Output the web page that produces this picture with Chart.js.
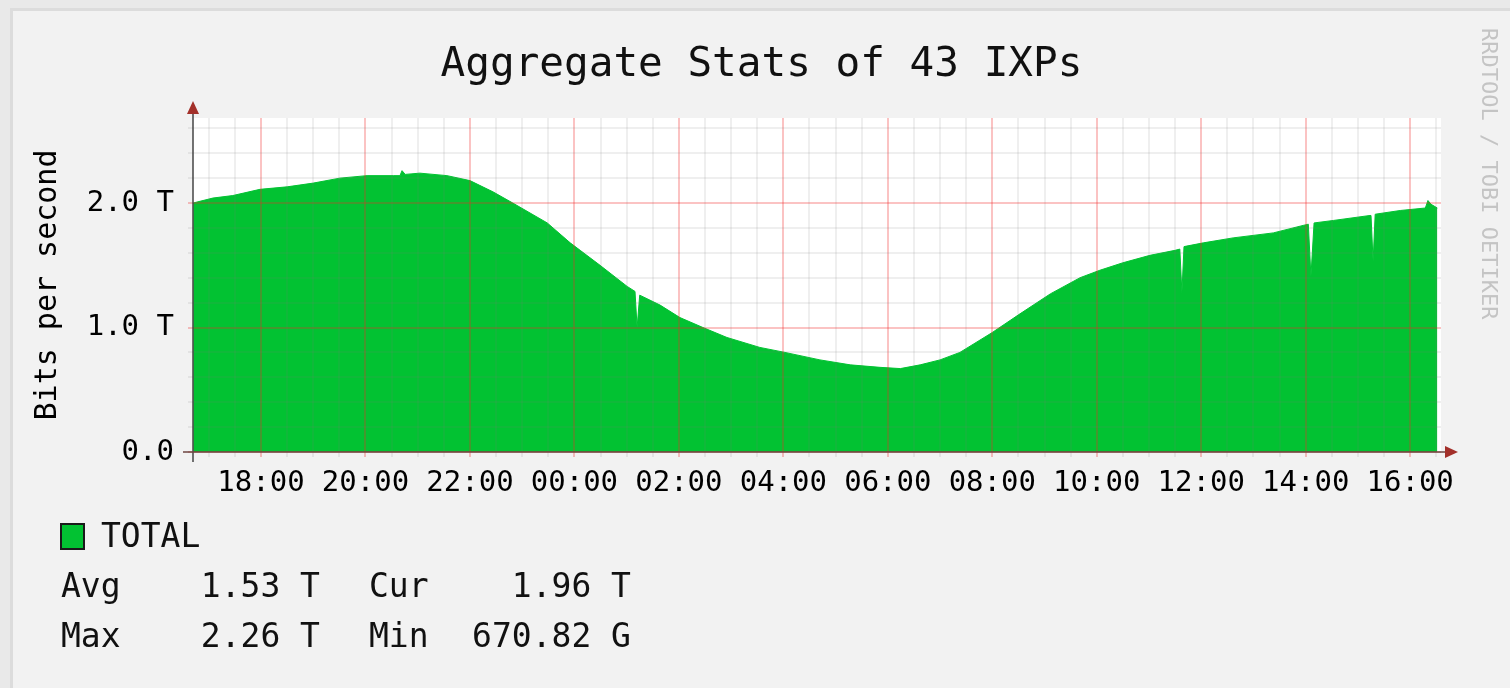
<!DOCTYPE html>
<html>
<head>
<meta charset="utf-8">
<script src="https://cdn.jsdelivr.net/npm/chart.js@4/dist/chart.umd.min.js"></script>
<style>
  html, body { margin: 0; padding: 0; }
  body { width: 1510px; height: 688px; background: #e9e9e9; position: relative; overflow: hidden;
         font-family: 'DejaVu Sans Mono', monospace; color: #111; }
  #panel { position: absolute; left: 10px; top: 8px; right: 0; bottom: 0;
           border-left: 3px solid #dcdcdc; border-top: 3px solid #dcdcdc; background: #f2f2f2; }
  #chart1 { position: absolute; left: 0; top: 0; }
  .txt { position: absolute; white-space: pre; line-height: 1; }
  #title { left: 0; width: 1523px; top: 42px; text-align: center; font-size: 41px; }
  #mark { left: 1478px; top: 28px; font-size: 22px; color: #c4c4c4; transform-origin: 0 0;
          transform: translate(22px, 0) rotate(90deg); }
  .leg { font-size: 33px; }
  .val { text-align: right; width: 200px; }
  #swatch { position: absolute; left: 60px; top: 523px; width: 21px; height: 23px;
            background: #02c232; border: 2px solid #1a1a1a; }
</style>
</head>
<body>
<div id="panel"></div>
<canvas id="chart1" width="1510" height="688"></canvas>
<div class="txt" id="title">Aggregate Stats of 43 IXPs</div>
<div class="txt" id="mark">RRDTOOL / TOBI OETIKER</div>
<div id="swatch"></div>
<div class="txt leg" style="left:101px; top:519px;">TOTAL</div>
<div class="txt leg" style="left:61px; top:569px;">Avg</div>
<div class="txt leg val" style="left:120px; top:569px;" id="avg"></div>
<div class="txt leg" style="left:369px; top:569px;">Cur</div>
<div class="txt leg val" style="left:431px; top:569px;" id="cur"></div>
<div class="txt leg" style="left:61px; top:619px;">Max</div>
<div class="txt leg val" style="left:120px; top:619px;" id="max"></div>
<div class="txt leg" style="left:369px; top:619px;">Min</div>
<div class="txt leg val" style="left:431px; top:619px;" id="min"></div>
<script>
// hours after 16:00 on the first day
const times = [0.70, 1.08, 1.46, 1.98, 2.50, 3.00, 3.51, 4.03, 4.53, 4.66, 4.70, 4.76, 5.04, 5.56,
  6.00, 6.44, 6.82, 7.48, 7.92, 8.11, 8.49, 9.01, 9.16, 9.20, 9.25, 9.64, 10.02, 10.46, 10.92,
  11.55, 12.03, 12.70, 13.28, 13.85, 14.24, 14.62, 15.00, 15.38, 16.00, 16.53, 17.11, 17.68,
  18.06, 18.50, 19.02, 19.50, 19.59, 19.63, 19.67, 20.04, 20.61, 21.38, 21.95, 22.05, 22.10,
  22.16, 22.53, 23.23, 23.25, 23.29, 23.33, 23.81, 24.29, 24.34, 24.40, 24.52];
// total traffic, Tbit/s
const totalT = [2.00, 2.04, 2.06, 2.11, 2.13, 2.16, 2.20, 2.22, 2.22, 2.22, 2.26, 2.23, 2.24, 2.22,
  2.18, 2.09, 2.00, 1.84, 1.68, 1.62, 1.50, 1.33, 1.29, 1.00, 1.26, 1.18, 1.08, 1.00, 0.92,
  0.84, 0.80, 0.74, 0.70, 0.68, 0.67, 0.70, 0.74, 0.80, 0.96, 1.11, 1.27, 1.40,
  1.46, 1.52, 1.58, 1.62, 1.63, 1.28, 1.65, 1.68, 1.72, 1.76, 1.82, 1.83, 1.41,
  1.84, 1.86, 1.90, 1.90, 1.53, 1.91, 1.94, 1.96, 2.02, 1.99, 1.96];

const xTickHours = [2, 4, 6, 8, 10, 12, 14, 16, 18, 20, 22, 24];
const xTickLabels = ['18:00', '20:00', '22:00', '00:00', '02:00', '04:00', '06:00', '08:00',
  '10:00', '12:00', '14:00', '16:00'];
const yTickValues = [0, 1, 2];
const yTickLabels = ['0.0', '1.0 T', '2.0 T'];

const statNames = ['avg', 'cur', 'max', 'min'];
const statTexts = ['1.53 T', '1.96 T', '2.26 T', '670.82 G'];
statNames.forEach((n, i) => { document.getElementById(n).textContent = statTexts[i]; });

const green = '#02c232';
const minorGrid = 'rgba(120,120,120,0.12)';
const majorGrid = 'rgba(240,40,40,0.28)';
const monoFont = 'DejaVu Sans Mono';

const xGrid = [];
for (let h = 1; h <= 24.5; h += 0.5) xGrid.push(h);
const yGrid = [];
for (let k = 0; k <= 13; k++) yGrid.push(Math.round(k * 2) / 10);

function xGridColor(c) {
  const v = xGrid[c.index];
  return (v !== undefined && xTickHours.some(h => Math.abs(h - v) < 1e-6)) ? majorGrid : minorGrid;
}
function yGridColor(c) {
  const v = yGrid[c.index];
  return (v !== undefined && yTickValues.some(t => Math.abs(t - v) < 1e-6)) ? majorGrid : minorGrid;
}

const frame = {
  id: 'frame',
  beforeDraw(chart) {
    const a = chart.chartArea, c = chart.ctx;
    c.save();
    c.fillStyle = '#ffffff';
    c.fillRect(a.left, a.top, a.right - a.left, a.bottom - a.top);
    c.restore();
  },
  afterDraw(chart) {
    const a = chart.chartArea, c = chart.ctx;
    c.save();
    c.lineWidth = 1.5;
    c.strokeStyle = '#444';
    c.beginPath(); c.moveTo(a.left, a.bottom + 10); c.lineTo(a.left, a.top - 8); c.stroke();
    c.strokeStyle = '#6e4642';
    c.beginPath(); c.moveTo(a.left - 10, a.bottom); c.lineTo(a.right + 8, a.bottom); c.stroke();
    c.fillStyle = '#a3302a';
    c.beginPath();
    c.moveTo(a.left, a.top - 17); c.lineTo(a.left - 6, a.top - 4); c.lineTo(a.left + 6, a.top - 4);
    c.closePath(); c.fill();
    c.beginPath();
    c.moveTo(a.right + 17, a.bottom); c.lineTo(a.right + 4, a.bottom - 6); c.lineTo(a.right + 4, a.bottom + 6);
    c.closePath(); c.fill();
    c.restore();
  }
};

window.onload = function () {
  let chart1 = document.getElementById('chart1').getContext('2d');

  new Chart(chart1, {
    type: 'line',
    data: {
      datasets: [{
        label: 'TOTAL',
        data: times.map((t, i) => ({ x: t, y: totalT[i] })),
        fill: 'origin',
        backgroundColor: green,
        borderColor: green,
        borderWidth: 1,
        pointRadius: 0,
        tension: 0
      }]
    },
    options: {
      responsive: false,
      animation: false,
      layout: { padding: { top: 118, right: 69, bottom: 186, left: 0 } },
      plugins: { legend: { display: false }, tooltip: { enabled: false } },
      scales: {
        x: {
          type: 'linear', min: 0.698, max: 24.59, z: 1,
          border: { display: false },
          grid: { z: 1, color: xGridColor, lineWidth: 2, tickLength: 5 },
          ticks: {
            autoSkip: false, maxRotation: 0, padding: 9, color: '#000',
            font: { family: monoFont, size: 29 },
            callback: v => {
              const i = xTickHours.findIndex(h => Math.abs(h - v) < 1e-6);
              return i >= 0 ? xTickLabels[i] : '';
            }
          },
          afterBuildTicks: ax => { ax.ticks = xGrid.map(v => ({ value: v })); },
          afterFit: ax => { ax.height = 50; }
        },
        y: {
          type: 'linear', min: 0, max: 2.683, z: 1,
          border: { display: false },
          grid: { z: 1, color: yGridColor, lineWidth: 2, tickLength: 5 },
          ticks: {
            autoSkip: false, padding: 14, color: '#000',
            font: { family: monoFont, size: 29 },
            callback: v => {
              const i = yTickValues.findIndex(t => Math.abs(t - v) < 1e-6);
              return i >= 0 ? yTickLabels[i] : '';
            }
          },
          title: {
            display: true, text: 'Bits per second', color: '#000',
            font: { family: monoFont, size: 30 },
            padding: { top: 30, bottom: 0 }
          },
          afterBuildTicks: ax => { ax.ticks = yGrid.map(v => ({ value: v })); },
          afterFit: ax => { ax.width = 193; }
        }
      }
    },
    plugins: [frame]
  });
}
</script>
</body>
</html>
